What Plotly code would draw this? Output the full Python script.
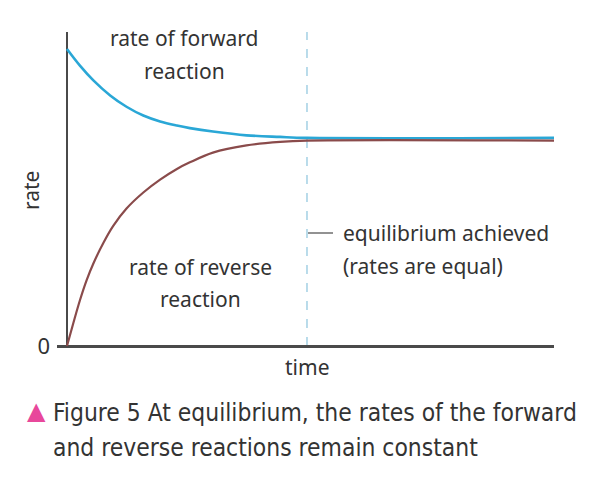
import plotly.graph_objects as go

# ---- data ----
forward_time = [0.0, 0.27, 0.55, 0.90, 1.24, 1.59, 1.94, 2.29, 2.56, 3.04, 3.74, 4.44, 5.0, 10.15]
forward_rate = [9.46, 8.93, 8.46, 7.98, 7.62, 7.34, 7.15, 7.02, 6.94, 6.83, 6.71, 6.66, 6.63, 6.63]

reverse_time = [0.0, 0.13, 0.27, 0.41, 0.55, 0.76, 0.96, 1.24, 1.59, 1.94, 2.29, 2.56, 3.04, 3.74, 4.44, 5.0, 10.15]
reverse_rate = [0.0, 0.72, 1.46, 2.10, 2.63, 3.29, 3.82, 4.38, 4.89, 5.30, 5.64, 5.85, 6.16, 6.39, 6.50, 6.54, 6.54]

equilibrium_time = 5.0
y_tick_vals = [0]
y_tick_text = ["0"]

# ---- layout geometry (pixels) ----
W, H = 600, 478
L, R, T, B = 57, 554, 32, 347


def px(x):
    return (x - L) / (R - L)


def py(y):
    return (B - y) / (B - T)


TEXT = "#333333"
LABEL_FONT = "Noto Sans"
CAP_FONT = "DejaVu Sans Condensed"

fig = go.Figure()
fig.add_trace(go.Scatter(x=forward_time, y=forward_rate, mode="lines",
                         line=dict(color="#2aa7d6", width=2.6, shape="spline", smoothing=1.0),
                         hoverinfo="skip", showlegend=False))
fig.add_trace(go.Scatter(x=reverse_time, y=reverse_rate, mode="lines",
                         line=dict(color="#8a4b4b", width=2.2, shape="spline", smoothing=1.0),
                         hoverinfo="skip", showlegend=False))

# equilibrium dashed line
fig.add_shape(type="line", xref="x", yref="y", x0=equilibrium_time, x1=equilibrium_time,
              y0=0, y1=10, line=dict(color="#a9d3e6", width=1.6, dash="dash"), layer="below")
# small pointer to label
fig.add_shape(type="line", xref="paper", yref="paper", x0=px(308), x1=px(333),
              y0=py(233), y1=py(233), line=dict(color="#777777", width=1.6))

anns = []
for txt, xx, yy in [("rate of forward", 184, 38), ("reaction", 184, 71),
                    ("rate of reverse", 200, 267), ("reaction", 200, 299)]:
    anns.append(dict(text=txt, x=px(xx), y=py(yy), xref="paper", yref="paper",
                     showarrow=False, xanchor="center", yanchor="middle",
                     font=dict(family=LABEL_FONT, size=21, color=TEXT)))
for txt, yy in [("equilibrium achieved", 233), ("(rates are equal)", 266)]:
    anns.append(dict(text=txt, x=px(341), y=py(yy), xref="paper", yref="paper",
                     showarrow=False, xanchor="left", yanchor="middle",
                     font=dict(family=LABEL_FONT, size=21, color=TEXT)))
# axis titles
anns.append(dict(text="time", x=px(307), y=py(367), xref="paper", yref="paper",
                 showarrow=False, xanchor="center", yanchor="middle",
                 font=dict(family=LABEL_FONT, size=21, color=TEXT)))
anns.append(dict(text="rate", x=px(31), y=py(191), xref="paper", yref="paper",
                 showarrow=False, xanchor="center", yanchor="middle", textangle=-90,
                 font=dict(family=LABEL_FONT, size=21, color=TEXT)))
# caption
anns.append(dict(text="▲", x=px(36.5), y=py(411), xref="paper", yref="paper",
                 showarrow=False, xanchor="center", yanchor="middle",
                 font=dict(family="DejaVu Sans", size=24, color="#e8489b")))
anns.append(dict(text="Figure 5 At equilibrium, the rates of the forward", x=px(51), y=py(412),
                 xref="paper", yref="paper", showarrow=False, xanchor="left", yanchor="middle",
                 font=dict(family=CAP_FONT, size=24.4, color=TEXT)))
anns.append(dict(text="and reverse reactions remain constant", x=px(51), y=py(447),
                 xref="paper", yref="paper", showarrow=False, xanchor="left", yanchor="middle",
                 font=dict(family=CAP_FONT, size=24.4, color=TEXT)))

fig.update_layout(
    width=W, height=H,
    margin=dict(l=L, r=W - R, t=T, b=H - B, pad=0, autoexpand=False),
    paper_bgcolor="white", plot_bgcolor="white",
    annotations=anns,
    xaxis=dict(range=[-0.208, 10.146], showgrid=False, showticklabels=False, ticks="",
               zeroline=True, zerolinecolor="#4a4a4a", zerolinewidth=2.4, showline=False,
               fixedrange=True),
    yaxis=dict(range=[-0.03, 10.0], showgrid=False, tickvals=y_tick_vals, ticktext=y_tick_text,
               ticks="", ticklabelstandoff=6, zeroline=True, zerolinecolor="#4a4a4a",
               zerolinewidth=2.6, showline=False, fixedrange=True,
               tickfont=dict(family=LABEL_FONT, size=22, color=TEXT)),
)

fig.write_html("out.html", config={"displayModeBar": False},
               post_script="document.body.style.margin='0';document.body.style.overflow='hidden';")
